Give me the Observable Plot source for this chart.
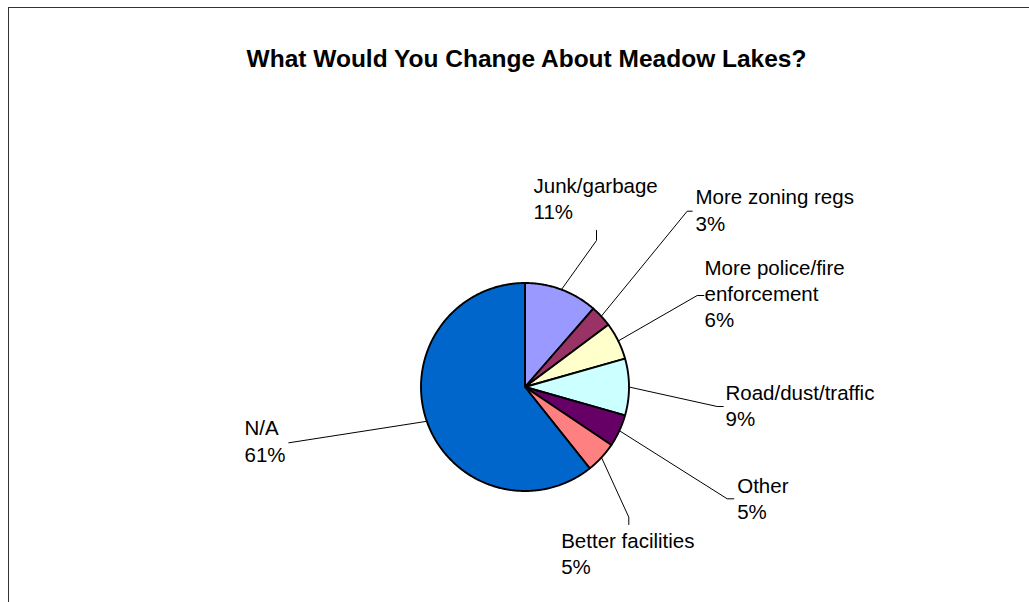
<!DOCTYPE html>
<html>
<head>
<meta charset="utf-8">
<script src="https://cdn.jsdelivr.net/npm/d3@7"></script>
<script src="https://cdn.jsdelivr.net/npm/@observablehq/plot@0.6"></script>
<style>
  html, body { margin: 0; padding: 0; background: #fff; }
  #wrap { position: relative; width: 1029px; height: 602px; overflow: hidden; }
  #chart { position: absolute; left: 0; top: 0; }
  #frame { position: absolute; left: 8px; top: 7px; width: 1100px; height: 700px;
           border-top: 1.5px solid #333; border-left: 1.5px solid #333; pointer-events: none; }
</style>
</head>
<body>
<div id="wrap"><div id="chart"></div><div id="frame"></div></div>
<script>
// ---- data ----
const title = "What Would You Change About Meadow Lakes?";
const categories = ["Junk/garbage", "More zoning regs", "More police/fire enforcement", "Road/dust/traffic", "Other", "Better facilities", "N/A"];
const labelLines = ["Junk/garbage", "More zoning regs", "More police/fire\nenforcement", "Road/dust/traffic", "Other", "Better facilities", "N/A"];
const shares = [11.4, 3.4, 5.8, 8.8, 5.0, 4.9, 60.7];
const colors = ["#9999FF", "#993366", "#FFFFCC", "#CCFFFF", "#660066", "#FF8080", "#0066CC"];

// ---- layout (pixels) ----
const CX = 524.5, CY = 386.5, R = 104;
// label anchor: left x, baseline of last line; leader: elbow and end points
const labelAt = [[533, 218.3], [695, 230], [704, 326.7], [725, 425.7], [736.7, 518.3], [560.7, 573.3], [244, 461]];
const leaderPts = [
  [[596, 240], [596, 230]],
  [[686.7, 210.7], [691.7, 210.7]],
  [[696.7, 295], [703.3, 295]],
  [[716.7, 406], [722.7, 406]],
  [[726.7, 498.3], [733.3, 498.3]],
  [[628.3, 516.7], [628.3, 524]],
  [[288.3, 442.3]]
];
const toX = px => (px - CX) / R;
const toY = py => (CY - py) / R;

// ---- slice geometry from shares ----
const total = d3.sum(shares);
const slicePts = [];
const leaders = [];
const labels = [];
let acc = 0;
shares.forEach((v, i) => {
  const a0 = acc / total * 2 * Math.PI;
  acc += v;
  const a1 = acc / total * 2 * Math.PI;
  const name = categories[i];
  const n = Math.max(2, Math.ceil((a1 - a0) / (Math.PI / 360)));
  slicePts.push({name, x: 0, y: 0});
  for (let k = 0; k <= n; k++) {
    const t = a0 + (a1 - a0) * k / n;
    slicePts.push({name, x: Math.sin(t), y: Math.cos(t)});
  }
  slicePts.push({name, x: 0, y: 0});
  const am = (a0 + a1) / 2;
  leaders.push({name, x: Math.sin(am), y: Math.cos(am)});
  leaderPts[i].forEach(([px, py]) => leaders.push({name, x: toX(px), y: toY(py)}));
  labels.push({name, x: toX(labelAt[i][0]), y: toY(labelAt[i][1]), text: `${labelLines[i]}\n${Math.round(v / total * 100)}%`});
});

const font = "'Liberation Sans', Arial, sans-serif";
const chart = Plot.plot({
  width: 1029,
  height: 602,
  margin: 0,
  style: {background: "transparent", fontFamily: font},
  x: {domain: [-1, 1], range: [CX - R, CX + R], axis: null},
  y: {domain: [-1, 1], range: [CY + R, CY - R], axis: null},
  color: {domain: categories, range: colors},
  marks: [
    Plot.line(slicePts, {x: "x", y: "y", z: "name", fill: "name", stroke: "black", strokeWidth: 1.9, curve: "linear"}),
    Plot.line(leaders, {x: "x", y: "y", z: "name", stroke: "black", strokeWidth: 1, curve: "linear"}),
    Plot.text(labels, {x: "x", y: "y", text: "text", textAnchor: "start", lineAnchor: "bottom", lineHeight: 1.28, fontSize: 20.5, fill: "black", fontFamily: font}),
    Plot.text([title], {frameAnchor: "top", dx: 11.5, dy: 66, lineAnchor: "bottom", fontSize: 24.5, fontWeight: "bold", fill: "black", fontFamily: font})
  ]
});
document.getElementById("chart").appendChild(chart);
</script>
</body>
</html>
